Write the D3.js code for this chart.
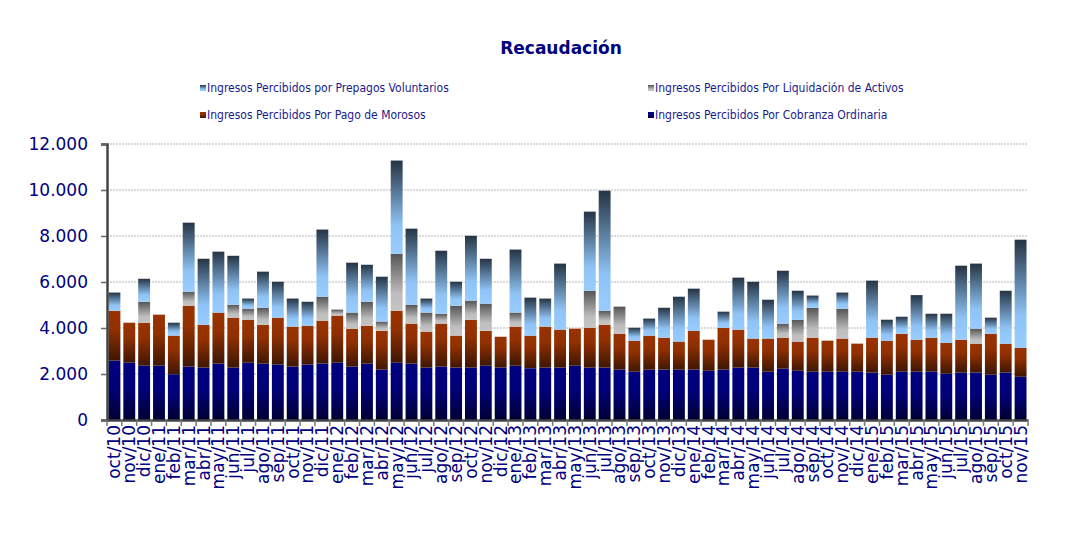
<!DOCTYPE html>
<html>
<head>
<meta charset="utf-8">
<script src="https://cdn.jsdelivr.net/npm/d3@7"></script>
<style>
  body { margin: 0; background: #fff; }
  svg { display: block; }
</style>
</head>
<body>
<svg id="chart" width="1078" height="543"></svg>
<script>
(function () {
    // month labels, oct/10 .. nov/15
    const months = ["oct/10","nov/10","dic/10",
        "ene/11","feb/11","mar/11","abr/11","may/11","jun/11","jul/11","ago/11","sep/11","oct/11","nov/11","dic/11",
        "ene/12","feb/12","mar/12","abr/12","may/12","jun/12","jul/12","ago/12","sep/12","oct/12","nov/12","dic/12",
        "ene/13","feb/13","mar/13","abr/13","may/13","jun/13","jul/13","ago/13","sep/13","oct/13","nov/13","dic/13",
        "ene/14","feb/14","mar/14","abr/14","may/14","jun/14","jul/14","ago/14","sep/14","oct/14","nov/14","dic/14",
        "ene/15","feb/15","mar/15","abr/15","may/15","jun/15","jul/15","ago/15","sep/15","oct/15","nov/15"];

    // series (stack order bottom -> top)
    const cobranza = [2580,2490,2360,2360,1990,2320,2280,2450,2280,2490,2450,2410,2320,2410,2450,
        2490,2320,2450,2190,2490,2450,2280,2320,2280,2280,2360,2280,
        2360,2250,2280,2280,2360,2280,2280,2190,2100,2190,2190,2190,
        2190,2140,2190,2280,2280,2100,2230,2140,2100,2100,2100,2100,
        2060,1970,2100,2100,2100,2010,2060,2060,1970,2060,1880];
    const morosos = [2170,1740,1870,2220,1680,2650,1860,2220,2170,1870,1690,2040,1740,1690,1870,
        2050,1650,1650,1690,2260,1740,1560,1870,1390,2080,1520,1340,
        1700,1420,1780,1650,1610,1730,1860,1560,1350,1480,1390,1220,
        1690,1350,1820,1650,1260,1440,1350,1270,1480,1350,1440,1220,
        1520,1480,1650,1390,1480,1350,1430,1260,1780,1260,1260];
    const liquidacion = [0,0,910,0,0,610,0,0,560,480,740,0,0,0,1040,
        260,700,1040,400,2480,820,830,430,1300,830,1180,0,
        610,0,0,0,0,1610,610,1180,0,0,0,0,
        0,0,0,0,0,0,610,950,1300,0,1300,0,
        0,0,0,0,0,0,0,650,0,0,0];
    const prepagos = [790,0,1000,0,560,3000,2870,2650,2130,440,1570,1560,1220,1040,2920,
        0,2170,1610,1950,4050,3310,610,2740,1040,2820,1950,0,
        2740,1650,1220,2870,0,3440,5220,0,560,740,1300,1950,
        1830,0,700,2260,2470,1690,2300,1260,530,0,700,0,
        2480,910,740,1940,1040,1260,3220,2830,700,2300,4700];

    const yTicks = [0,2000,4000,6000,8000,10000,12000];
    const tickLabel = d => d === 0 ? "0" : d3.format(",")(d).replace(/,/g, ".");

    const keys = ["cobranza","morosos","liquidacion","prepagos"];
    const data = months.map((m, i) => ({
        month: m,
        cobranza: cobranza[i],
        morosos: morosos[i],
        liquidacion: liquidacion[i],
        prepagos: prepagos[i]
    }));

    const svg = d3.select("#chart");
    const navy = "#000080";
    const left = 107, right = 1028, top = 144, bottom = 420;

    // gradients, one per series
    const defs = svg.append("defs");
    const grads = {
        cobranza: [[0, "#000080"], [0.45, "#000078"], [1, "#000033"]],
        morosos: [[0, "#993300"], [0.35, "#933000"], [1, "#3e1603"]],
        liquidacion: [[0, "#555555"], [0.7, "#bdbdbd"], [1, "#c4c4c4"]],
        prepagos: [[0, "#253444"], [0.7, "#8fc3f5"], [1, "#99ccff"]]
    };
    Object.keys(grads).forEach(k => {
        const g = defs.append("linearGradient")
            .attr("id", "g-" + k)
            .attr("x1", 0).attr("y1", 0).attr("x2", 0).attr("y2", 1);
        grads[k].forEach(s => g.append("stop").attr("offset", s[0]).attr("stop-color", s[1]));
    });

    const x = d3.scaleBand()
        .domain(months)
        .range([left, right])
        .paddingInner(0.2)
        .paddingOuter(0.1);

    const y = d3.scaleLinear()
        .domain([0, 12000])
        .range([bottom, top]);

    // gridlines
    svg.append("g")
        .selectAll("line")
        .data(yTicks.filter(d => d > 0))
        .join("line")
        .attr("x1", left).attr("x2", right)
        .attr("y1", d => y(d)).attr("y2", d => y(d))
        .attr("stroke", "#cfcfcf")
        .attr("stroke-width", 1.5)
        .attr("stroke-dasharray", "2,1");

    // stacked bars
    const stack = d3.stack().keys(keys)(data);
    svg.append("g")
        .selectAll("g")
        .data(stack)
        .join("g")
        .attr("fill", d => "url(#g-" + d.key + ")")
        .selectAll("rect")
        .data(d => d.filter(p => p[1] - p[0] > 0))
        .join("rect")
        .attr("x", d => x(d.data.month))
        .attr("y", d => y(d[1]))
        .attr("width", x.bandwidth())
        .attr("height", d => y(d[0]) - y(d[1]));

    // y axis
    const yAxis = svg.append("g")
        .attr("transform", `translate(${left},0)`)
        .call(d3.axisLeft(y).tickValues(yTicks).tickFormat(tickLabel).tickSize(6).tickPadding(13));
    yAxis.select(".domain").attr("stroke", "#444").attr("stroke-width", 2.5);
    yAxis.selectAll(".tick line").attr("stroke", "#666").attr("stroke-width", 1.5);
    yAxis.selectAll("text")
        .attr("fill", navy)
        .style("font-family", "DejaVu Sans")
        .style("font-size", "17px");

    // x axis
    const xAxis = svg.append("g")
        .attr("transform", `translate(0,${bottom})`)
        .call(d3.axisBottom(x).tickSize(0).tickSizeOuter(0));
    xAxis.select(".domain").attr("stroke", "#444").attr("stroke-width", 2.5);
    xAxis.selectAll(".tick text")
        .attr("fill", navy)
        .style("font-family", "DejaVu Sans")
        .style("font-size", "17px")
        .attr("text-anchor", "end")
        .attr("transform", "rotate(-90)")
        .attr("x", -5)
        .attr("y", 0)
        .attr("dy", "0.35em");

    // tick marks between bands
    const step = x.step();
    svg.append("g")
        .selectAll("line")
        .data(months.concat(["end"]))
        .join("line")
        .attr("x1", (d, i) => x(months[0]) - step * 0.1 + i * step)
        .attr("x2", (d, i) => x(months[0]) - step * 0.1 + i * step)
        .attr("y1", bottom)
        .attr("y2", bottom + 6)
        .attr("stroke", "#777")
        .attr("stroke-width", 1.5);

    // title
    svg.append("text")
        .attr("x", 561).attr("y", 54)
        .attr("text-anchor", "middle")
        .attr("fill", navy)
        .style("font-family", "DejaVu Sans")
        .style("font-weight", "bold")
        .style("font-size", "17px")
        .text("Recaudación");

    // legend
    const legend = [
        { key: "prepagos", label: "Ingresos Percibidos por Prepagos Voluntarios", x: 200, y: 88 },
        { key: "liquidacion", label: "Ingresos Percibidos Por Liquidación de Activos", x: 648, y: 88 },
        { key: "morosos", label: "Ingresos Percibidos Por Pago de Morosos", x: 200, y: 115 },
        { key: "cobranza", label: "Ingresos Percibidos Por Cobranza Ordinaria", x: 648, y: 115 }
    ];
    const lg = svg.append("g")
        .selectAll("g")
        .data(legend)
        .join("g")
        .attr("transform", d => `translate(${d.x},${d.y})`);
    lg.append("rect")
        .attr("x", 0).attr("y", -3)
        .attr("width", 6).attr("height", 6)
        .attr("fill", d => "url(#g-" + d.key + ")");
    lg.append("text")
        .attr("x", 7).attr("y", 0)
        .attr("dy", "0.35em")
        .attr("fill", "#1a1a8c")
        .style("font-family", "DejaVu Sans Condensed")
        .style("font-size", "12px")
        .text(d => d.label);
})();
</script>
</body>
</html>
